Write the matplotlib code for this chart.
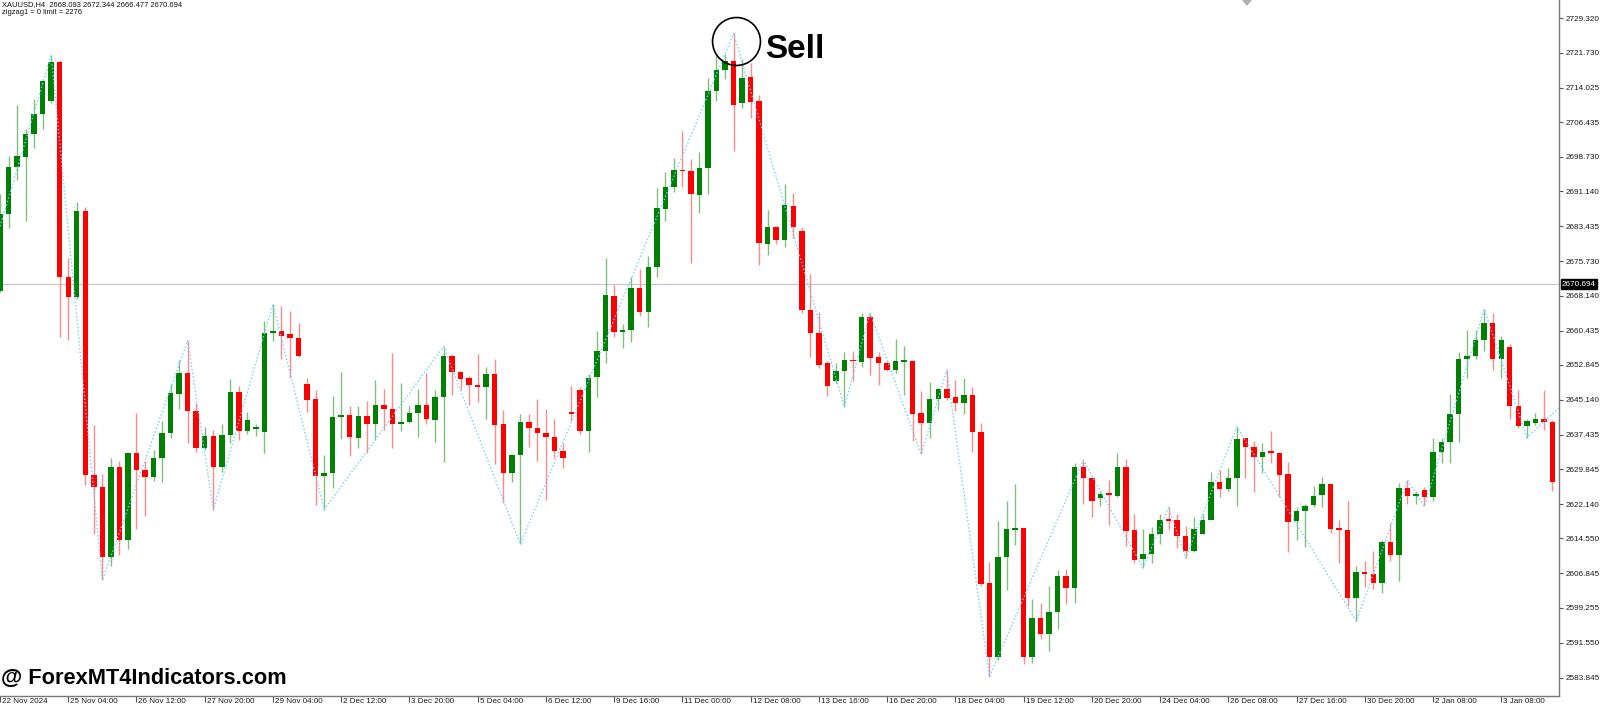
import numpy as np
import matplotlib
matplotlib.use("Agg")
import matplotlib.pyplot as plt
import matplotlib.transforms as mtransforms
from matplotlib.patches import Polygon

plt.rcParams['font.family'] = ['Liberation Sans', 'DejaVu Sans']

# XAUUSD H4 candles (bar 0 = first visible bar)
opens = [2669.1, 2686.2, 2696.5, 2698.8, 2703.8, 2708.2, 2711.1, 2719.7, 2672.3, 2667.8,
         2686.8, 2628.5, 2626.0, 2610.4, 2630.4, 2614.1, 2633.4, 2629.6, 2628.1, 2632.3,
         2637.8, 2646.5, 2651.1, 2642.7, 2634.6, 2637.2, 2630.3, 2637.4, 2646.9, 2638.2,
         2638.7, 2638.0, 2659.8, 2660.3, 2659.6, 2658.7, 2648.7, 2645.3, 2628.4, 2629.0,
         2641.3, 2641.8, 2636.8, 2641.6, 2639.8, 2644.0, 2643.1, 2639.8, 2640.3, 2642.2,
         2643.9, 2640.7, 2645.7, 2654.8, 2651.3, 2649.9, 2648.4, 2648.0, 2650.9, 2639.7,
         2628.9, 2633.0, 2640.3, 2639.0, 2637.8, 2636.9, 2633.9, 2642.4, 2647.3, 2638.2,
         2650.2, 2656.0, 2668.1, 2660.1, 2660.5, 2669.9, 2664.6, 2674.5, 2687.3, 2692.0,
         2695.8, 2695.6, 2690.3, 2696.4, 2713.2, 2717.9, 2720.0, 2710.6, 2716.3, 2711.0,
         2679.5, 2683.3, 2680.5, 2688.0, 2682.5, 2664.9, 2659.9, 2653.2, 2649.3, 2651.4,
         2653.9, 2653.5, 2663.5, 2654.5, 2653.2, 2651.7, 2653.5, 2653.8, 2642.2, 2640.1,
         2645.4, 2647.5, 2645.7, 2644.5, 2646.2, 2638.1, 2604.7, 2588.3, 2610.5, 2616.5,
         2616.8, 2588.3, 2596.9, 2593.4, 2598.4, 2606.3, 2603.7, 2630.4, 2627.9, 2623.4,
         2624.5, 2623.9, 2630.2, 2616.4, 2609.9, 2611.1, 2615.5, 2618.6, 2618.6, 2615.1,
         2611.8, 2615.6, 2618.6, 2626.9, 2625.4, 2627.8, 2636.6, 2634.8, 2632.6, 2633.9,
         2633.5, 2628.7, 2618.3, 2620.6, 2622.0, 2624.1, 2626.5, 2616.8, 2616.4, 2601.5,
         2607.2, 2606.6, 2604.6, 2613.8, 2610.9, 2625.6, 2623.8, 2625.2, 2623.7, 2633.7,
         2635.9, 2642.0, 2654.1, 2654.7, 2658.3, 2662.2, 2654.1, 2656.9, 2643.8, 2639.4,
         2640.0, 2641.0, 2640.3]
highs = [2690.6, 2699.0, 2710.1, 2705.0, 2711.5, 2716.0, 2721.2, 2720.2, 2676.5, 2688.9,
         2687.8, 2639.5, 2628.8, 2632.3, 2631.6, 2633.6, 2642.2, 2631.6, 2634.1, 2640.4,
         2648.6, 2653.9, 2658.2, 2644.5, 2639.1, 2638.5, 2639.7, 2649.8, 2648.1, 2642.5,
         2639.7, 2662.6, 2666.2, 2665.8, 2664.8, 2662.1, 2649.9, 2647.2, 2632.9, 2645.9,
         2651.3, 2643.8, 2643.7, 2644.8, 2649.5, 2647.6, 2655.4, 2648.8, 2643.8, 2647.6,
         2651.0, 2647.3, 2656.9, 2655.3, 2651.5, 2650.3, 2655.3, 2652.3, 2654.2, 2642.9,
         2633.1, 2642.0, 2642.0, 2645.3, 2643.1, 2641.0, 2635.5, 2648.2, 2647.9, 2650.9,
         2660.3, 2676.4, 2670.5, 2661.8, 2672.2, 2674.0, 2676.9, 2691.9, 2695.5, 2698.4,
         2704.4, 2698.3, 2699.8, 2716.2, 2721.5, 2721.5, 2726.0, 2720.4, 2719.4, 2712.5,
         2687.1, 2683.6, 2692.8, 2690.7, 2683.3, 2672.9, 2664.6, 2653.8, 2653.2, 2655.6,
         2656.0, 2664.2, 2664.4, 2655.8, 2653.6, 2658.5, 2657.1, 2653.9, 2647.0, 2649.1,
         2647.7, 2651.7, 2649.6, 2649.9, 2647.9, 2640.0, 2609.4, 2618.3, 2622.8, 2626.5,
         2616.9, 2601.1, 2600.4, 2604.1, 2607.5, 2607.7, 2631.2, 2631.8, 2628.0, 2625.1,
         2627.5, 2633.4, 2632.0, 2619.9, 2616.6, 2617.0, 2619.9, 2621.4, 2619.9, 2617.3,
         2619.3, 2620.0, 2629.3, 2629.6, 2630.0, 2639.2, 2636.8, 2636.1, 2635.5, 2638.3,
         2633.7, 2631.5, 2621.4, 2622.1, 2626.2, 2628.2, 2626.6, 2618.6, 2622.8, 2608.5,
         2609.6, 2611.7, 2614.2, 2617.9, 2626.7, 2627.4, 2625.1, 2625.9, 2636.6, 2636.6,
         2646.4, 2655.8, 2660.5, 2660.5, 2665.2, 2664.4, 2659.3, 2657.4, 2647.4, 2640.9,
         2642.2, 2647.4, 2640.6]
lows = [2668.9, 2683.0, 2693.6, 2684.5, 2700.7, 2705.0, 2710.7, 2659.1, 2658.3, 2667.3,
        2626.4, 2615.6, 2605.3, 2608.5, 2610.8, 2612.3, 2616.7, 2619.5, 2627.3, 2627.0,
        2636.6, 2643.2, 2635.5, 2633.6, 2634.0, 2620.9, 2629.3, 2635.7, 2636.3, 2637.6,
        2637.2, 2633.3, 2658.1, 2654.2, 2650.0, 2654.6, 2642.5, 2621.9, 2620.9, 2625.6,
        2636.4, 2632.8, 2634.5, 2633.3, 2636.2, 2638.4, 2634.4, 2638.2, 2640.1, 2636.9,
        2639.8, 2635.8, 2631.5, 2646.3, 2647.4, 2644.0, 2644.6, 2641.0, 2631.0, 2622.3,
        2627.1, 2613.3, 2634.7, 2631.7, 2623.0, 2632.3, 2630.1, 2640.4, 2637.5, 2633.7,
        2645.8, 2653.2, 2658.9, 2656.5, 2657.8, 2663.7, 2661.1, 2672.2, 2684.5, 2690.9,
        2692.2, 2675.3, 2686.3, 2690.6, 2711.0, 2715.9, 2700.1, 2709.5, 2707.3, 2674.9,
        2677.1, 2679.5, 2678.8, 2680.8, 2664.4, 2654.5, 2652.1, 2645.9, 2648.8, 2643.6,
        2649.3, 2652.3, 2650.7, 2648.4, 2651.4, 2651.0, 2646.2, 2636.1, 2633.1, 2636.6,
        2642.9, 2645.1, 2642.6, 2642.0, 2633.7, 2604.1, 2584.0, 2587.7, 2603.2, 2613.1,
        2586.9, 2587.0, 2592.3, 2589.7, 2594.5, 2600.0, 2600.2, 2622.1, 2619.2, 2621.7,
        2617.5, 2623.7, 2612.9, 2609.2, 2608.1, 2609.1, 2613.4, 2616.4, 2612.4, 2610.2,
        2611.6, 2615.5, 2618.5, 2623.6, 2625.1, 2621.7, 2627.8, 2624.7, 2628.9, 2631.2,
        2623.6, 2611.6, 2614.2, 2612.7, 2621.5, 2621.5, 2615.8, 2609.1, 2599.6, 2596.3,
        2603.9, 2603.3, 2602.4, 2609.6, 2605.2, 2622.1, 2622.1, 2621.6, 2622.7, 2631.1,
        2631.1, 2635.9, 2649.9, 2654.1, 2656.0, 2651.8, 2649.9, 2640.9, 2639.0, 2636.8,
        2639.5, 2638.4, 2625.0]
closes = [2686.2, 2696.5, 2698.9, 2703.8, 2708.2, 2715.6, 2719.7, 2672.3, 2667.8, 2686.8,
          2628.5, 2625.9, 2610.4, 2630.4, 2614.1, 2633.4, 2629.6, 2628.1, 2632.3, 2637.9,
          2646.7, 2651.1, 2642.7, 2634.6, 2637.2, 2630.2, 2637.4, 2646.9, 2638.2, 2640.7,
          2638.9, 2659.8, 2660.3, 2659.3, 2658.7, 2654.8, 2645.2, 2628.4, 2629.0, 2641.3,
          2641.8, 2636.9, 2641.6, 2639.8, 2644.0, 2643.1, 2639.8, 2640.3, 2642.2, 2643.9,
          2640.8, 2645.7, 2654.8, 2651.3, 2649.8, 2648.3, 2648.0, 2650.9, 2639.5, 2628.9,
          2633.0, 2640.3, 2639.0, 2637.8, 2636.9, 2633.9, 2632.3, 2642.1, 2638.3, 2650.0,
          2656.0, 2668.3, 2660.1, 2660.5, 2669.9, 2664.6, 2674.5, 2687.5, 2692.0, 2695.9,
          2695.6, 2690.6, 2696.4, 2713.2, 2717.9, 2719.9, 2710.3, 2716.1, 2710.8, 2679.7,
          2683.2, 2680.5, 2688.1, 2683.2, 2664.9, 2659.9, 2652.9, 2648.2, 2651.4, 2653.9,
          2653.6, 2663.5, 2654.3, 2653.2, 2651.7, 2653.8, 2653.8, 2642.1, 2640.0, 2645.4,
          2647.5, 2645.5, 2644.5, 2646.1, 2638.0, 2604.4, 2588.3, 2610.5, 2616.6, 2616.8,
          2588.3, 2596.9, 2593.4, 2598.4, 2606.3, 2603.7, 2630.4, 2627.9, 2622.8, 2624.3,
          2624.1, 2630.2, 2616.2, 2609.7, 2611.1, 2615.5, 2618.6, 2618.4, 2615.1, 2611.8,
          2616.6, 2618.6, 2626.9, 2625.4, 2627.8, 2636.5, 2634.8, 2632.6, 2633.7, 2633.5,
          2628.6, 2618.1, 2620.6, 2621.6, 2623.9, 2626.5, 2616.7, 2616.4, 2601.5, 2607.2,
          2606.6, 2604.6, 2613.8, 2610.9, 2625.6, 2623.8, 2624.3, 2623.7, 2633.7, 2635.9,
          2642.0, 2654.1, 2654.7, 2658.3, 2662.2, 2654.1, 2658.3, 2643.8, 2639.4, 2640.4,
          2641.0, 2640.2, 2627.0]

# zigzag indicator swing points (bar index, price); first and last lie off screen
zz_bars = [-3, 6, 12, 22, 25, 32, 38, 52, 61, 86, 99, 102, 108, 111, 116,
           127, 134, 137, 139, 145, 159, 165, 167, 174, 179, 186]
zz_prices = [2664.5, 2721.2, 2605.3, 2658.2, 2620.9, 2666.2, 2620.9, 2656.9, 2613.3,
             2726.0, 2643.6, 2664.4, 2633.1, 2651.7, 2584.0, 2631.8, 2608.1, 2621.4,
             2610.2, 2639.2, 2596.3, 2627.4, 2621.6, 2665.2, 2636.8, 2649.0]

price_ticks = [2729.320, 2721.730, 2714.025, 2706.435, 2698.730, 2691.140, 2683.435,
               2675.730, 2668.140, 2660.435, 2652.845, 2645.140, 2637.435, 2629.845,
               2622.140, 2614.550, 2606.845, 2599.255, 2591.550, 2583.845]
time_labels = ["22 Nov 2024", "25 Nov 04:00", "26 Nov 12:00", "27 Nov 20:00", "29 Nov 04:00",
               "2 Dec 12:00", "3 Dec 20:00", "5 Dec 04:00", "6 Dec 12:00", "9 Dec 16:00",
               "11 Dec 00:00", "12 Dec 08:00", "13 Dec 16:00", "16 Dec 20:00", "18 Dec 04:00",
               "19 Dec 12:00", "20 Dec 20:00", "24 Dec 04:00", "26 Dec 08:00", "27 Dec 16:00",
               "30 Dec 20:00", "2 Jan 08:00", "3 Jan 08:00"]
time_label_bars = [8 * k for k in range(len(time_labels))]

symbol_line = "XAUUSD,H4  2668.093 2672.344 2666.477 2670.694"
indicator_line = "zigzag1 = 0 limit = 2276"
last_price = 2670.694
signal_text = "Sell"
signal_bar = 86
watermark = "@ ForexMT4Indicators.com"

o = np.array(opens)
h = np.array(highs)
l = np.array(lows)
c = np.array(closes)
x = np.arange(len(o))
up = c >= o

W, H = 1600, 708
PLOT_R, PLOT_B = 1559, 696     # right price scale and bottom time scale, in pixels
fig = plt.figure(figsize=(W / 100, H / 100), dpi=100)
fig.patch.set_facecolor("white")
ax = fig.add_axes([0, (H - PLOT_B) / H, PLOT_R / W, PLOT_B / H])

# pixel scale of the original chart: 8.533 px per bar, 34.69 px per price step
px_bar = 8.533
px_price = (price_ticks[0] - price_ticks[-1]) / (19 * 34.69)
ax.set_xlim(0.6 / px_bar, (PLOT_R + 0.6) / px_bar)
ytop = price_ticks[0] + 18.4 * px_price
ax.set_ylim(ytop - PLOT_B * px_price, ytop)

ax.axhline(last_price, color="#c8c8c8", lw=0.9, zorder=1)

# wicks
ax.vlines(x[up], l[up], h[up], color="#7fbf7f", lw=1.0, zorder=2)
ax.vlines(x[~up], l[~up], h[~up], color="#ff8a8a", lw=1.0, zorder=2)
# bodies
body = np.maximum(np.abs(c - o), 0.35)
bottom = np.minimum(o, c)
ax.bar(x[up], body[up], bottom=bottom[up], width=0.64, color="#008000", linewidth=0, zorder=3)
ax.bar(x[~up], body[~up], bottom=bottom[~up], width=0.64, color="#ff0000", linewidth=0, zorder=3)

ax.plot(zz_bars, zz_prices, color="#6fd0ff", lw=1.0, linestyle=(0, (1, 1.6)), zorder=4)

# signal circle and label
peak = h[signal_bar]
ax.plot([signal_bar + 0.24], [peak - 1.7], marker="o", markersize=34.5, mfc="none",
        mec="black", mew=1.2, zorder=5)
ax.text(signal_bar + 3.72, peak - 3.6, signal_text, fontsize=24, fontweight="bold",
        ha="left", va="center", color="black", zorder=6)

# axes look
for s in ["top", "left"]:
    ax.spines[s].set_visible(False)
ax.spines["right"].set_color("#7a7a7a")
ax.spines["bottom"].set_color("#7a7a7a")
ax.spines["right"].set_linewidth(1.0)
ax.spines["bottom"].set_linewidth(1.0)

ax.yaxis.tick_right()
ax.set_yticks(price_ticks)
ax.set_yticklabels(["%.3f" % p for p in price_ticks])
ax.tick_params(axis="y", direction="out", length=3, width=0.8, color="#555555",
               labelsize=5.9, labelcolor="#1a1a1a", pad=2)

ax.set_xticks(time_label_bars)
ax.set_xticklabels([])
ax.tick_params(axis="x", direction="out", length=4, width=0.8, color="#555555")
trans = mtransforms.blended_transform_factory(ax.transData, ax.transAxes)
trans = mtransforms.offset_copy(trans, fig=fig, x=2, y=-2, units="dots")
for b, lab in zip(time_label_bars, time_labels):
    ax.text(b, 0, lab, transform=trans, ha="left", va="top", fontsize=5.8,
            color="#1a1a1a", clip_on=False)

# current price tag on the price scale
tag_trans = mtransforms.blended_transform_factory(ax.transAxes, ax.transData)
tag_trans = mtransforms.offset_copy(tag_trans, fig=fig, x=3, y=0, units="dots")
ax.text(1.0, last_price, "%.3f" % last_price, transform=tag_trans, ha="left", va="center",
        fontsize=5.9, color="white", clip_on=False, zorder=10,
        bbox=dict(boxstyle="square,pad=0.18", fc="black", ec="black"))

# header lines
fig.text(2 / W, 1 - 5 / H, symbol_line, fontsize=5.4, color="#111111", va="center", ha="left")
fig.text(2 / W, 1 - 13 / H, indicator_line, fontsize=5.4, color="#111111", va="center", ha="left")

# chart-shift marker at the top
fig.patches.append(Polygon([(1242 / W, 1.0), (1252 / W, 1.0), (1247 / W, 1 - 6 / H)],
                           closed=True, transform=fig.transFigure, fc="#b0b0b0", ec="none"))

fig.text(1 / W, 1 - 684 / H, watermark, fontsize=15.7, fontweight="bold", color="black",
         ha="left", va="baseline")

fig.savefig("out.png", dpi=100)
